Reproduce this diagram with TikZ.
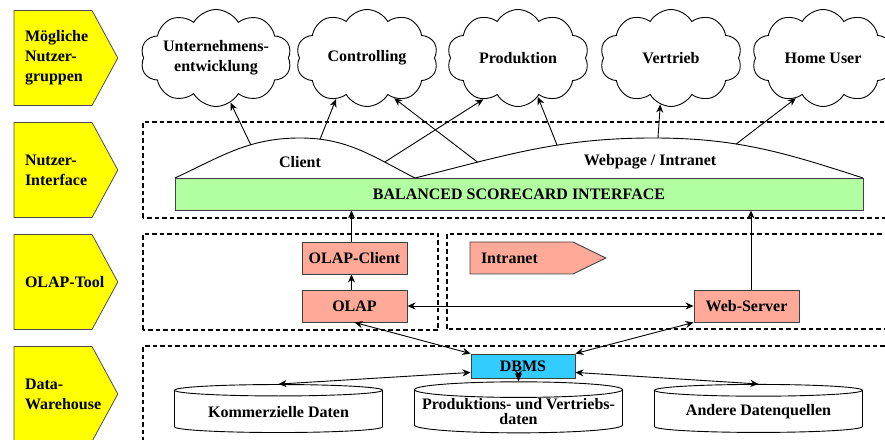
\documentclass[tikz,border=0pt]{standalone}
\usepackage{fontspec}
\setmainfont{Liberation Serif}
\usetikzlibrary{arrows.meta,shapes.symbols,shapes.geometric}
\definecolor{layeryellow}{RGB}{255,255,0}
\definecolor{toolsalmon}{RGB}{255,170,153}
\definecolor{bscgreen}{RGB}{178,255,162}
\definecolor{dbmscyan}{RGB}{51,204,255}
\newcommand\boldtxt{\fontsize{16}{20}\selectfont\bfseries}
\tikzset{
  link/.style={line width=0.9pt},
  zone/.style={dash pattern=on 4.5pt off 3pt,line width=1.2pt},
  layer/.style={signal,signal to=east,signal pointer angle=123,draw=black!70,line width=0.8pt,
                fill=layeryellow,minimum height=95,text width=56,
                align=left,inner xsep=11pt,inner ysep=0pt,font=\boldtxt},
  group/.style={cloud,cloud puffs=10,cloud puff arc=120,cloud ignores aspect,draw,line width=0.9pt,
                minimum width=142,minimum height=97,align=center,inner sep=0pt,font=\boldtxt},
  tool/.style={draw=black!75,line width=0.9pt,fill=toolsalmon,minimum width=105,minimum height=32,
               inner sep=2pt,font=\boldtxt},
  store/.style={cylinder,shape border rotate=90,shape aspect=0.08,draw,line width=0.9pt,fill=white,
                minimum width=208,minimum height=48,align=center,inner sep=1pt,
                font=\fontsize{16}{15}\selectfont\bfseries},
  lab/.style={font=\boldtxt},
}
\begin{document}
\begin{tikzpicture}[x=1pt,y=1pt,>={Stealth[length=8pt,width=7pt,inset=2.5pt]}]
  \useasboundingbox (0,0) rectangle (885,439);
  \clip (0,0) rectangle (885,439);

  % layers
  \node[layer] (lgroups) at (53,381) {Mögliche\\Nutzer-\\gruppen};
  \node[layer] (linterface) at (53,269) {Nutzer-\\Interface};
  \node[layer] (lolap) at (53,157) {\mbox{OLAP-Tool}};
  \node[layer] (lwarehouse) at (53,45) {Data-\\Warehouse};

  \draw[zone] (143,221) rectangle (895,317);
  \draw[zone] (143,109) rectangle (438,205);
  \draw[zone] (447,110) rectangle (895,205);
  \draw[zone] (143,-10) rectangle (895,93);

  % user groups
  \node[group] (gdev) at (216,381) {Unternehmens-\\entwicklung};
  \node[group] (gctrl) at (367,381) {Controlling};
  \node[group] (gprod) at (518,381) {Produktion};
  \node[group] (gsales) at (671,381) {Vertrieb};
  \node[group] (ghome) at (823,381) {Home User};

  % interface
  \draw[link] (175,261) to[out=25,in=180] coordinate[pos=0.63] (cl1) (300,301)
    to[out=0,in=153] coordinate[pos=0.15] (cl2) coordinate[pos=0.74] (cl3) (415,261);
  \draw[link] (415,261) to[out=14,in=180] coordinate[pos=0.25] (wp1) coordinate[pos=0.61] (wp2) (653,301)
    to[out=0,in=162] coordinate[pos=0.02] (wp3) coordinate[pos=0.38] (wp4) (863,261);
  \node[lab] (client) at (300,277) {Client};
  \node[lab] (webpage) at (650,277) {Webpage / Intranet};
  \node[draw=black!75,line width=0.9pt,fill=bscgreen,minimum width=688,minimum height=32,font=\boldtxt]
    (bsc) at (519,245) {BALANCED SCORECARD INTERFACE};

  \draw[link,->] (cl1) -- (gdev.-72);
  \draw[link,->] (cl2) -- (gctrl.-127);
  \draw[link,->] (cl3) -- (gprod.-130);
  \draw[link,->] (wp1) -- (gctrl.-56);
  \draw[link,->] (wp2) -- (gprod.-63);
  \draw[link,->] (wp3) -- (gsales.-103);
  \draw[link,->] (wp4) -- (ghome.-124);

  % olap
  \node[tool] (oclient) at (354.5,181) {OLAP-Client};
  \node[tool] (olap) at (354.5,133) {OLAP};
  \node[tool] (websrv) at (746.5,133) {Web-Server};
  \node[signal,signal to=east,signal pointer angle=52,draw=black!75,line width=0.9pt,fill=toolsalmon,
        minimum height=32,text width=81,align=left,inner xsep=11pt,inner ysep=0pt,font=\boldtxt]
    (intranet) at (521.5,181) {Intranet};

  \draw[link,->] ([xshift=-3pt]oclient.north) -- ([xshift=-3pt]oclient.north |- bsc.south);
  \draw[link,->] ([xshift=-3pt]olap.north) -- ([xshift=-3pt]oclient.south);
  \draw[link,<->] (olap) -- (websrv);
  \draw[link,->] ([xshift=4.5pt]websrv.north) -- ([xshift=4.5pt]websrv.north |- bsc.south);

  % warehouse
  \node[draw=black!75,line width=0.9pt,fill=dbmscyan,minimum width=104,minimum height=24,
        inner sep=1pt,font=\boldtxt] (dbms) at (523,73) {DBMS};
  \node[store] (kom) at (278.5,27) {Kommerzielle Daten};
  \node[store] (prodv) at (518.5,27) {Produktions- und Vertriebs-\\daten};
  \node[store] (andere) at (758.5,27) {Andere Datenquellen};

  \draw[link,<->] (olap.south) -- (dbms.north west);
  \draw[link,<->] (websrv.south west) -- (dbms.north east);
  \draw[link,<->] (dbms.187) -- (kom.north);
  \draw[link,<->] (dbms.-7) -- (andere.north);
  \draw[link,<->] (prodv.north |- dbms.south) -- (prodv.north);
\end{tikzpicture}
\end{document}
